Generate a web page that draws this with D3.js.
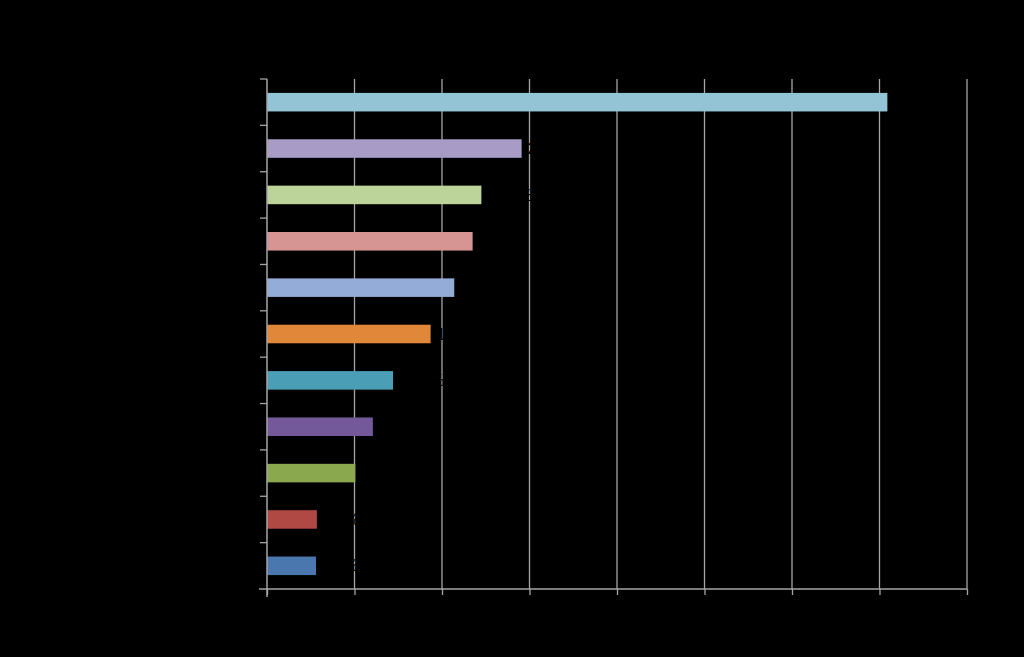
<!DOCTYPE html>
<html>
<head>
<meta charset="utf-8">
<script src="https://cdn.jsdelivr.net/npm/d3@7"></script>
<style>
    html, body { margin: 0; padding: 0; background: #000; }
    svg { display: block; font-family: "Liberation Sans", Arial, sans-serif; }
</style>
</head>
<body>
<svg id="chart" width="1024" height="657"></svg>
<script>
// bottom to top, as drawn
let categories = ['Category 1', 'Category 2', 'Category 3', 'Category 4', 'Category 5', 'Category 6',
    'Category 7', 'Category 8', 'Category 9', 'Category 10', 'Category 11']
let values = [5.6, 5.7, 10.1, 12.1, 14.4, 18.7, 21.4, 23.5, 24.5, 29.1, 70.9]
let colors = ['#4a78ae', '#b04844', '#8aa84e', '#73589a', '#4a9eb6', '#e0873a',
    '#93acd8', '#d69593', '#bcd49a', '#a89cc6', '#93c4d6']
let xTicks = [0, 10, 20, 30, 40, 50, 60, 70, 80]

function main() {
    let svg = d3.select('#chart'),
        margin = {top: 79, bottom: 68, left: 267, right: 57},
        width = svg.attr('width') - margin.left - margin.right,
        height = svg.attr('height') - margin.top - margin.bottom

    let data = categories.map((c, i) => ({name: c, value: values[i], color: colors[i]}))

    let xScale = d3.scaleLinear().domain([0, 80]).range([margin.left, margin.left + width]),
        yScale = d3.scaleBand().domain(categories.slice().reverse())
            .range([margin.top, margin.top + height]).paddingInner(0.6).paddingOuter(0.3)

    // gridlines
    svg.append('g')
        .selectAll('line')
        .data(xTicks.slice(1))
        .enter()
        .append('line')
        .attr('x1', d => xScale(d)).attr('x2', d => xScale(d))
        .attr('y1', margin.top).attr('y2', margin.top + height)
        .attr('stroke', '#a6a6a6').attr('stroke-width', 1.3)

    svg.selectAll('rect.bar')
        .data(data)
        .enter()
        .append('rect')
        .attr('class', 'bar')
        .attr('x', xScale(0))
        .attr('y', d => yScale(d.name))
        .attr('width', d => xScale(d.value) - xScale(0))
        .attr('height', yScale.bandwidth())
        .attr('fill', d => d.color)

    // data labels (black on black, as in the source)
    svg.selectAll('text.label')
        .data(data)
        .enter()
        .append('text')
        .attr('class', 'label')
        .attr('x', d => xScale(d.value) + 6)
        .attr('y', d => yScale(d.name) + yScale.bandwidth() / 2)
        .attr('dy', '0.35em')
        .attr('font-size', 16)
        .attr('fill', '#000')
        .text(d => d3.format('.1f')(d.value) + '%')

    let xAxis = svg.append('g')
        .attr('transform', 'translate(0, ' + (margin.top + height) + ')')
        .call(d3.axisBottom(xScale).tickValues(xTicks).tickSize(6).tickFormat(d => d + '%'))
    xAxis.select('.domain').attr('stroke', '#a6a6a6').attr('stroke-width', 1.5)
        .attr('d', 'M' + (margin.left - 8) + ',0H' + (margin.left + width))
    xAxis.selectAll('.tick line').attr('stroke', '#a6a6a6').attr('stroke-width', 1.3)
    xAxis.selectAll('.tick text').attr('fill', '#000').attr('font-size', 14)

    // category axis with boundary ticks
    let yAxis = svg.append('g')
        .attr('transform', 'translate(' + margin.left + ', 0)')
        .call(d3.axisLeft(yScale).tickSize(0).tickPadding(10))
    yAxis.select('.domain').attr('stroke', '#a6a6a6').attr('stroke-width', 1.5)
        .attr('d', 'M0,' + margin.top + 'V' + (margin.top + height + 8))
    yAxis.selectAll('.tick text').attr('fill', '#000').attr('font-size', 14)

    let step = height / categories.length
    yAxis.selectAll('line.bound')
        .data(d3.range(categories.length))
        .enter()
        .append('line')
        .attr('class', 'bound')
        .attr('x1', -7).attr('x2', 0)
        .attr('y1', i => margin.top + i * step).attr('y2', i => margin.top + i * step)
        .attr('stroke', '#a6a6a6').attr('stroke-width', 1.3)
}

main()
</script>
</body>
</html>
